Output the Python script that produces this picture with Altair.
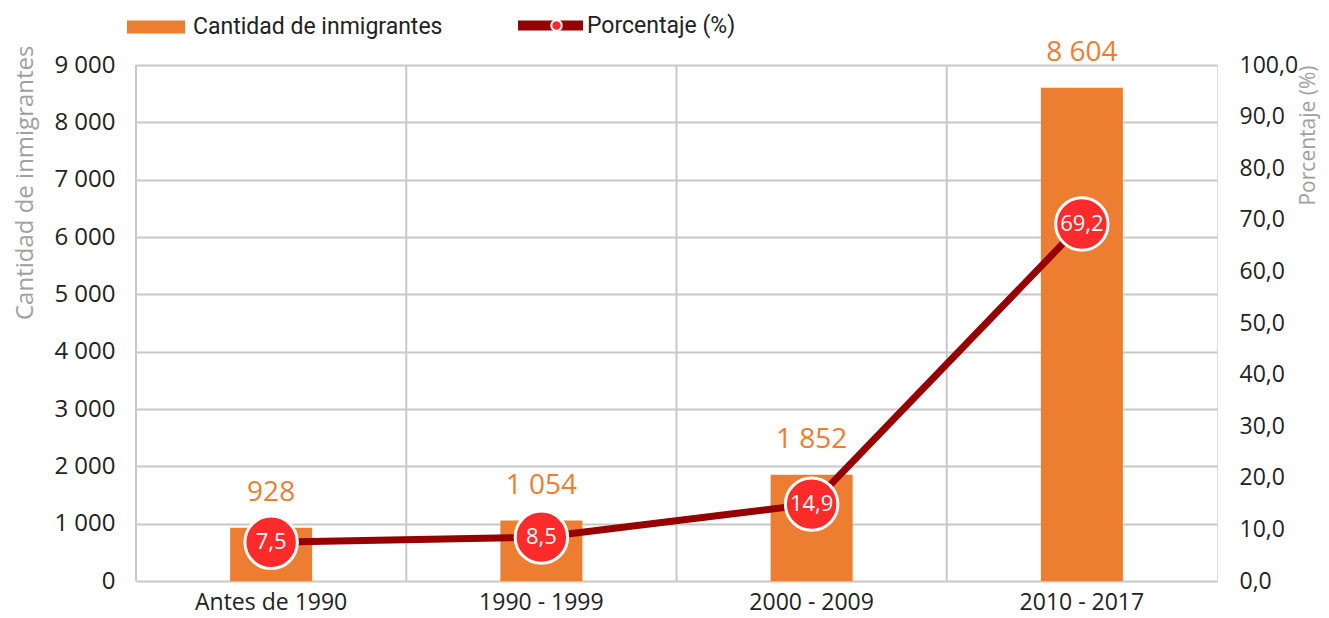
import altair as alt
import pandas as pd

categories = ["Antes de 1990", "1990 - 1999", "2000 - 2009", "2010 - 2017"]
counts = [928, 1054, 1852, 8604]
percents = [7.5, 8.5, 14.9, 69.2]
series_names = ["Cantidad de inmigrantes", "Porcentaje (%)"]
left_ticks = [0, 1000, 2000, 3000, 4000, 5000, 6000, 7000, 8000, 9000]
right_ticks = [0, 10, 20, 30, 40, 50, 60, 70, 80, 90, 100]

FONT = "Open Sans"
LEGEND_FONT = "Roboto"
BAR_COLOR = "#ED7D31"
LINE_COLOR = "#960000"
DOT_COLOR = "#FF2A2A"
GRID = "#c8c8c8"
TXT = "#222222"
TITLE_GREY = "#a0a0a0"

df = pd.DataFrame({
    "periodo": categories,
    "cantidad": counts,
    "porcentaje": percents,
    "s1": [series_names[0]] * len(categories),
    "s2": [series_names[1]] * len(categories),
})

x_axis = alt.Axis(title=None, labelAngle=0, labelFontSize=23, labelColor=TXT,
                  labelFont=FONT, labelPadding=10, ticks=False, domain=False, grid=False)
x_scale = alt.Scale(paddingInner=0, paddingOuter=0)


def xenc(**kw):
    return alt.X("periodo:N", sort=categories, scale=x_scale, axis=x_axis, **kw)


left_axis = alt.Axis(
    orient="left", values=left_ticks,
    labelExpr="replace(format(datum.value, ','), ',', ' ')",
    labelFontSize=24, labelColor=TXT, labelFont=FONT, labelPadding=21,
    ticks=False, domain=False, grid=True, gridColor=GRID, gridWidth=2,
    title="Cantidad de inmigrantes", titleFont=FONT, titleFontSize=24,
    titleFontWeight="normal", titleColor=TITLE_GREY, titleAngle=270,
    titleAlign="right", titleBaseline="middle", titleX=-111, titleY=-20,
)
right_axis = alt.Axis(
    orient="right", values=right_ticks,
    labelExpr="replace(format(datum.value, '.1f'), '.', ',')",
    labelFontSize=23, labelColor=TXT, labelFont=FONT, labelPadding=22,
    ticks=False, domain=False, grid=False,
    title="Porcentaje (%)", titleFont=FONT, titleFontSize=21,
    titleFontWeight="normal", titleColor=TITLE_GREY, titleAngle=270,
    titleAlign="right", titleBaseline="middle", titleX=91, titleY=0,
)

y_left = alt.Y("cantidad:Q", scale=alt.Scale(domain=[0, 9000], nice=False), axis=left_axis)
y_right = alt.Y("porcentaje:Q", scale=alt.Scale(domain=[0, 100], nice=False), axis=right_axis)

base = alt.Chart(df)

vgrid = base.mark_rule(color=GRID, strokeWidth=2).encode(x=xenc(bandPosition=0))

bars = base.mark_bar(size=82).encode(
    x=xenc(), y=y_left,
    color=alt.Color("s1:N", scale=alt.Scale(range=[BAR_COLOR]),
                    legend=alt.Legend(orient="none", legendX=7, legendY=-51, title=None,
                                      padding=0, symbolType="M-2.23,-0.5H2.23V0.5H-2.23Z",
                                      symbolSize=676, symbolStrokeWidth=0,
                                      labelOffset=24, labelFontSize=23, labelFont=LEGEND_FONT,
                                      labelColor=TXT, labelLimit=400)),
)

bar_labels = base.transform_calculate(
    lbl="replace(format(datum.cantidad, ','), ',', ' ')"
).mark_text(fontSize=28, color=BAR_COLOR, font=FONT, baseline="middle", dy=-35).encode(
    x=xenc(), y=y_left, text="lbl:N"
)

line = base.mark_line(strokeWidth=7).encode(
    x=xenc(), y=y_right,
    stroke=alt.Stroke("s2:N", scale=alt.Scale(range=[LINE_COLOR]),
                      legend=alt.Legend(orient="none", legendX=403, legendY=-51, title=None,
                                        padding=0, symbolType="M-5,0H5", symbolSize=169,
                                        symbolStrokeWidth=10, labelOffset=25,
                                        labelFontSize=23, labelFont=LEGEND_FONT,
                                        labelColor=TXT, labelLimit=400)),
)

points = base.mark_point(filled=True, size=2750, stroke="white", strokeWidth=3,
                         opacity=1).encode(
    x=xenc(), y=y_right,
    fill=alt.Fill("s2:N", scale=alt.Scale(range=[DOT_COLOR]),
                  legend=alt.Legend(orient="none", legendX=409, legendY=-51, title=None,
                                    padding=0, symbolType="circle", symbolSize=110,
                                    symbolStrokeColor="white", symbolStrokeWidth=2,
                                    labelExpr="''", labelFontSize=23, zindex=5)),
)

point_labels = base.transform_calculate(
    plbl="replace(format(datum.porcentaje, '.1f'), '.', ',')"
).mark_text(fontSize=22, color="white", font=FONT, baseline="middle").encode(
    x=xenc(), y=y_right, text="plbl:N"
)

left_group = alt.layer(vgrid, bars, bar_labels)
right_group = alt.layer(line, points, point_labels)

chart = alt.layer(left_group, right_group).resolve_scale(y="independent").properties(
    width=1081, height=516,
    padding={"left": 128, "top": 57, "right": 104, "bottom": 37},
    autosize=alt.AutoSizeParams(type="none"),
).configure_view(stroke=GRID, strokeWidth=2).configure(background="white")

chart.save("out.html", embed_options={"renderer": "svg", "actions": False})
